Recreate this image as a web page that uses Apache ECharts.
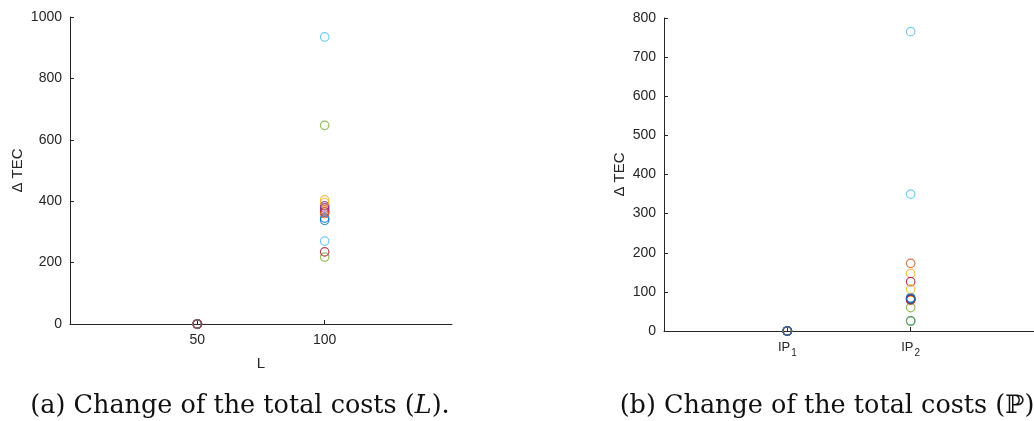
<!DOCTYPE html>
<html>
<head>
<meta charset="utf-8">
<script src="https://cdn.jsdelivr.net/npm/echarts@6/dist/echarts.min.js"></script>
<style>
html,body{margin:0;padding:0;background:#fff;}
#c{width:1034px;height:421px;}
</style>
</head>
<body>
<div id="c"></div>
<script>
// ---- data ----
var leftXValues = [50, 100];
var leftAt50  = [0, 0, 0, 0, 0, 0, 0, 0, 0, 0, 0, 0, 0, 0];
var leftAt100 = [345, 372, 404, 385, 647, 935, 365, 338, 360, 395, 378, 218, 270, 235];

var rightCategories = ['IP1', 'IP2'];
var rightAtIP1 = [0, 0, 0, 0, 0, 0, 0, 0, 0, 0, 0, 0, 0, 0, 0];
var rightAtIP2 = [85, 173, 147, 80, 60, 765, 126, 26, 79, 107, 82, 25, 350, 81, 83];

var leftYTicks = [0, 200, 400, 600, 800, 1000];
var rightYTicks = [0, 100, 200, 300, 400, 500, 600, 700, 800];

// ---- style ----
var palette = ['#0072BD', '#D95319', '#EDB120', '#7E2F8E', '#77AC30', '#4DBEEE', '#A2142F'];
var axisColor = '#262626';
var font = 'Liberation Sans';

function makeSeries(xs, a, b, gridIdx) {
  var out = [];
  for (var i = 0; i < a.length; i++) {
    out.push({
      type: 'scatter',
      xAxisIndex: gridIdx, yAxisIndex: gridIdx,
      symbol: 'circle', symbolSize: 8.5,
      itemStyle: { color: 'rgba(0,0,0,0)', borderColor: palette[i % 7], borderWidth: 1.2 },
      data: [[xs[0], a[i]], [xs[1], b[i]]],
      silent: true, animation: false
    });
  }
  return out;
}

var yAxisBase = function (max, interval, ticks, gap) {
  return {
    type: 'value', min: 0, max: max, interval: interval,
    name: 'Δ TEC', nameLocation: 'middle', nameGap: gap, nameRotate: 90,
    nameTextStyle: { color: axisColor, fontFamily: font, fontSize: 15 },
    axisLine: { show: true, lineStyle: { color: axisColor, width: 1 } },
    axisTick: { show: true, inside: true, length: 4, lineStyle: { color: axisColor } },
    axisLabel: { color: axisColor, fontFamily: font, fontSize: 14, margin: 8,
      customValues: ticks, formatter: function (v) { return String(v); } },
    splitLine: { show: false }
  };
};

var chart = echarts.init(document.getElementById('c'), null, { renderer: 'canvas' });
chart.setOption({
  animation: false,
  backgroundColor: '#fff',
  grid: [
    { left: 70, top: 17, width: 382, height: 307 },
    { left: 664, top: 18, width: 381, height: 313 }
  ],
  title: [
    { text: '(a) Change of the total costs ({i|L}).', left: 235, top: 388, textAlign: 'center',
      textStyle: { fontFamily: 'DejaVu Serif', fontSize: 25.5, fontWeight: 'normal', color: '#111',
        rich: { i: { fontFamily: 'DejaVu Serif', fontSize: 25.5, fontStyle: 'italic', color: '#111' } } } },
    { text: '(b) Change of the total costs (ℙ)', left: 822, top: 388, textAlign: 'center',
      textStyle: { fontFamily: 'DejaVu Serif', fontSize: 25.5, fontWeight: 'normal', color: '#111' } }
  ],
  xAxis: [
    {
      gridIndex: 0, type: 'value', min: 0, max: 150,
      name: 'L', nameLocation: 'middle', nameGap: 32,
      nameTextStyle: { color: axisColor, fontFamily: font, fontSize: 15 },
      axisLine: { show: true, onZero: false, lineStyle: { color: axisColor, width: 1 } },
      axisTick: { show: true, inside: true, length: 4, customValues: leftXValues, lineStyle: { color: axisColor } },
      axisLabel: { color: axisColor, fontFamily: font, fontSize: 14, margin: 9, customValues: leftXValues },
      splitLine: { show: false }
    },
    {
      gridIndex: 1, type: 'value', min: 0, max: 3,
      axisLine: { show: true, onZero: false, lineStyle: { color: axisColor, width: 1 } },
      axisTick: { show: true, inside: true, length: 4, customValues: [1, 2], lineStyle: { color: axisColor } },
      axisLabel: {
        customValues: [1, 2], margin: 10,
        formatter: function (v) {
          var c = rightCategories[Math.round(v) - 1];
          return '{m|' + c.slice(0, 2) + '}{s|' + c.slice(2) + '}';
        },
        rich: {
          m: { color: axisColor, fontFamily: font, fontSize: 13, lineHeight: 14, verticalAlign: 'top' },
          s: { color: axisColor, fontFamily: font, fontSize: 10, lineHeight: 10, verticalAlign: 'top', padding: [7, 0, 0, 1] }
        }
      },
      splitLine: { show: false }
    }
  ],
  yAxis: [
    Object.assign(yAxisBase(1000, 200, leftYTicks, 45), { gridIndex: 0 }),
    Object.assign(yAxisBase(800, 100, rightYTicks, 37), { gridIndex: 1 })
  ],
  series: makeSeries(leftXValues, leftAt50, leftAt100, 0)
    .concat(makeSeries([1, 2], rightAtIP1, rightAtIP2, 1))
});
</script>
</body>
</html>
